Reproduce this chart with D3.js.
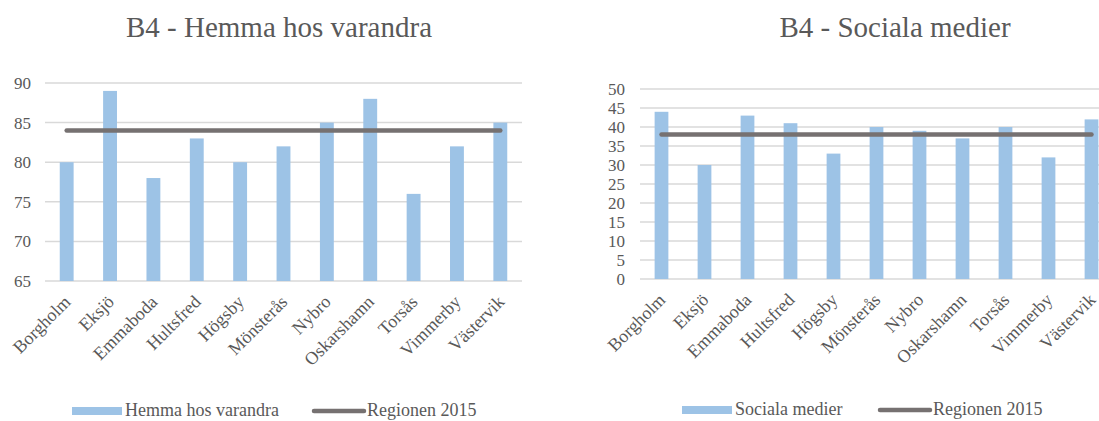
<!DOCTYPE html>
<html>
<head>
<meta charset="utf-8">
<script src="https://cdn.jsdelivr.net/npm/d3@7"></script>
<style>
    body { margin: 0; background: #fff; }
    text { font-family: "Liberation Serif", "Times New Roman", serif; fill: #595959; }
    .title { font-size: 29px; }
    .tick text { font-size: 17px; }
    .xlab text { font-size: 18px; }
    .legend text { font-size: 18px; }
</style>
</head>
<body>
<svg width="1099" height="421"></svg>

<script>
    // data
    const kommuner = ["Borgholm", "Eksjö", "Emmaboda", "Hultsfred", "Högsby", "Mönsterås",
        "Nybro", "Oskarshamn", "Torsås", "Vimmerby", "Västervik"];
    const hemmaValues = [80, 89, 78, 83, 80, 82, 85, 88, 76, 82, 85];
    const hemmaRegion = 84;
    const hemmaTicks = [65, 70, 75, 80, 85, 90];
    const socialaValues = [44, 30, 43, 41, 33, 40, 39, 37, 40, 32, 42];
    const socialaRegion = 38;
    const socialaTicks = [0, 5, 10, 15, 20, 25, 30, 35, 40, 45, 50];

    const svg = d3.select("svg");

    function drawChart(opt) {
        const g = svg.append("g");

        const x = d3.scaleBand()
            .domain(kommuner)
            .range([opt.left, opt.right])
            .paddingInner(0.68)
            .paddingOuter(0.34);

        const y = d3.scaleLinear()
            .domain([opt.ticks[0], opt.ticks[opt.ticks.length - 1]])
            .range([opt.bottom, opt.top]);

        // titel
        g.append("text")
            .attr("class", "title")
            .attr("x", opt.titleX)
            .attr("y", 37)
            .attr("text-anchor", "middle")
            .text(opt.title);

        // rutnät
        g.selectAll(".grid")
            .data(opt.ticks)
            .join("line")
            .attr("x1", opt.left)
            .attr("x2", opt.right)
            .attr("y1", d => y(d))
            .attr("y2", d => y(d))
            .attr("stroke", "#d9d9d9")
            .attr("stroke-width", 1.5);

        // y-axel
        const yAxis = g.append("g")
            .attr("transform", `translate(${opt.left},0)`)
            .call(d3.axisLeft(y).tickValues(opt.ticks).tickSize(0).tickPadding(opt.tickPad));
        yAxis.select(".domain").remove();

        // staplar
        g.selectAll(".bar")
            .data(opt.values)
            .join("rect")
            .attr("x", (d, i) => x(kommuner[i]))
            .attr("y", d => y(d))
            .attr("width", x.bandwidth())
            .attr("height", d => opt.bottom - y(d))
            .attr("fill", "#9dc3e6");

        // regionen-linje
        const line = d3.line()
            .x(d => x(d) + x.bandwidth() / 2)
            .y(() => y(opt.region));
        g.append("path")
            .datum(kommuner)
            .attr("d", line)
            .attr("fill", "none")
            .attr("stroke", "#767171")
            .attr("stroke-width", 4.5)
            .attr("stroke-linecap", "round");

        // x-etiketter
        const xAxis = g.append("g")
            .attr("class", "xlab")
            .attr("transform", `translate(0,${opt.bottom})`)
            .call(d3.axisBottom(x).tickSize(0).tickPadding(0));
        xAxis.select(".domain").remove();
        xAxis.selectAll("text")
            .attr("text-anchor", "end")
            .attr("dy", null)
            .attr("transform", "translate(5,22) rotate(-45)");

        // legend
        const lg = g.append("g").attr("class", "legend");
        lg.append("rect")
            .attr("x", opt.legX)
            .attr("y", opt.legY - 4)
            .attr("width", 50)
            .attr("height", 8)
            .attr("fill", "#9dc3e6");
        lg.append("text")
            .attr("x", opt.legX + 53)
            .attr("y", opt.legY + 5)
            .text(opt.seriesName);
        lg.append("line")
            .attr("x1", opt.legX2)
            .attr("x2", opt.legX2 + 50)
            .attr("y1", opt.legY)
            .attr("y2", opt.legY)
            .attr("stroke", "#767171")
            .attr("stroke-width", 4.5)
            .attr("stroke-linecap", "round");
        lg.append("text")
            .attr("x", opt.legX2 + 53)
            .attr("y", opt.legY + 5)
            .text("Regionen 2015");
    }

    drawChart({
        title: "B4 - Hemma hos varandra", titleX: 279,
        values: hemmaValues, region: hemmaRegion, ticks: hemmaTicks,
        left: 45, right: 522, top: 83, bottom: 281, tickPad: 14,
        seriesName: "Hemma hos varandra", legX: 72, legX2: 314, legY: 411
    });

    drawChart({
        title: "B4 - Sociala medier", titleX: 895,
        values: socialaValues, region: socialaRegion, ticks: socialaTicks,
        left: 640, right: 1113, top: 89, bottom: 279, tickPad: 15,
        seriesName: "Sociala medier", legX: 682, legX2: 880, legY: 410
    });
</script>
</body>
</html>
